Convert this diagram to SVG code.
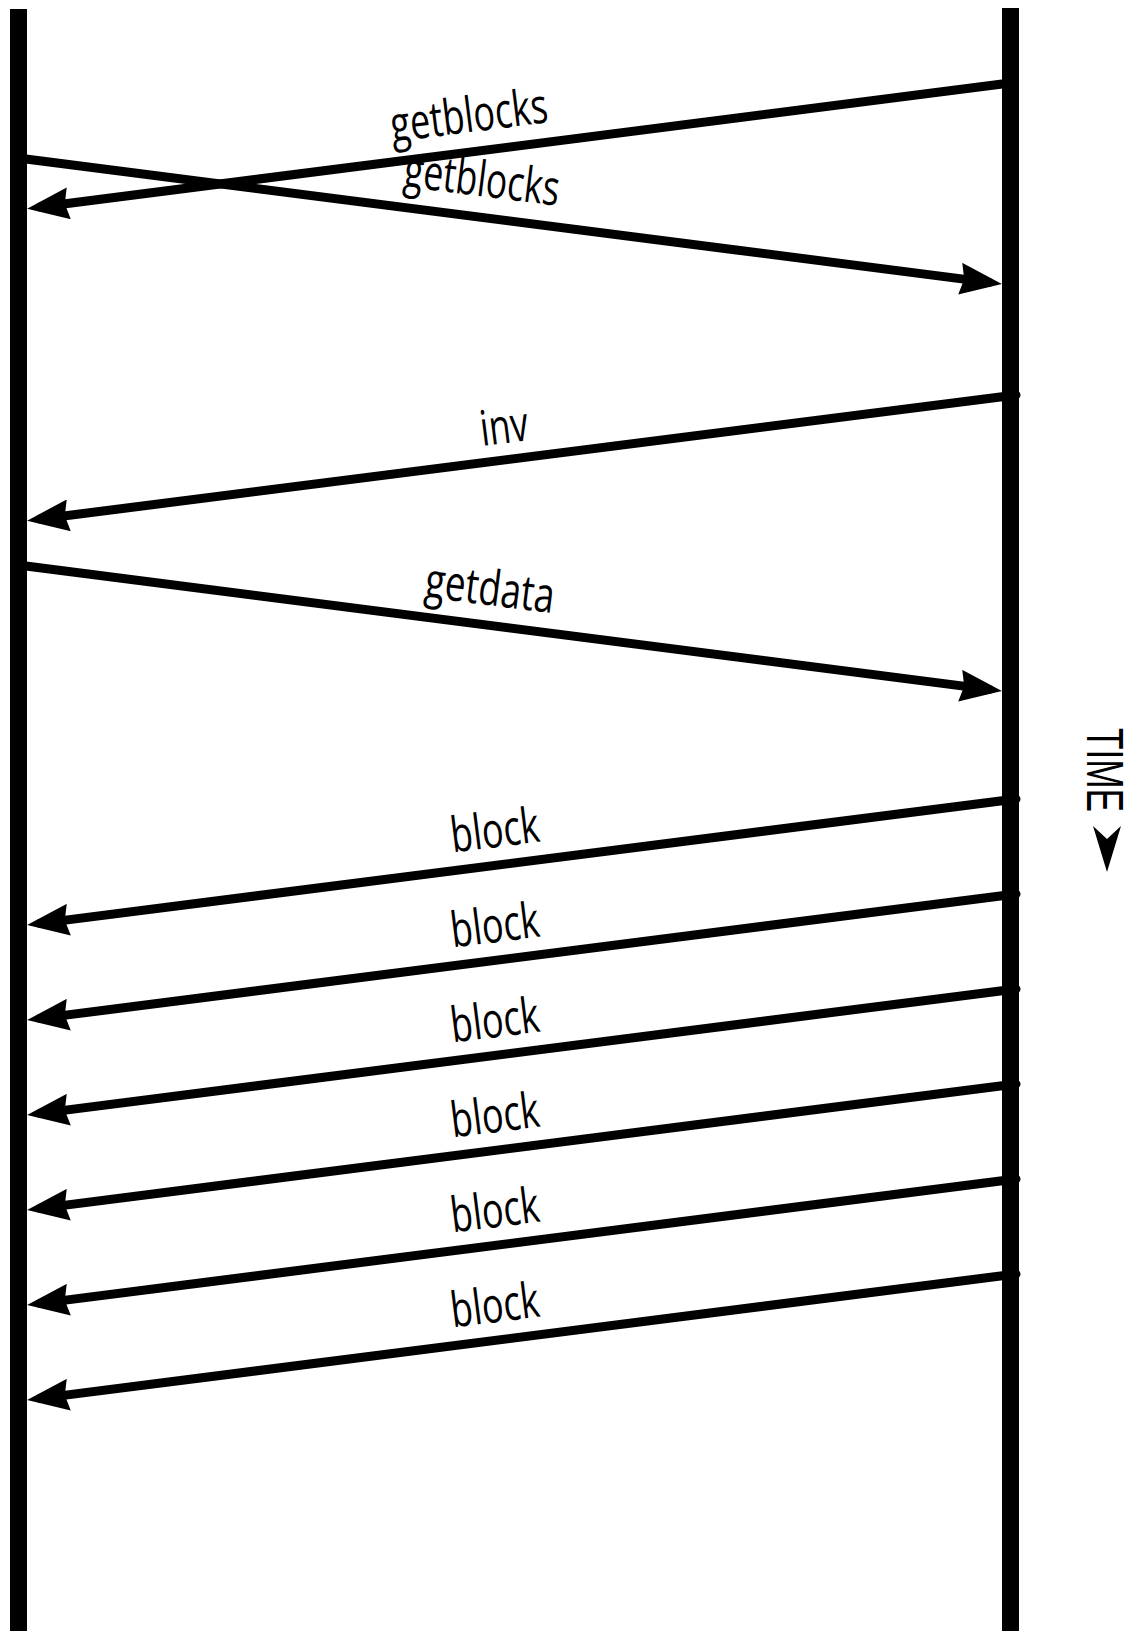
<svg xmlns="http://www.w3.org/2000/svg" width="1134" height="1631" viewBox="0 0 1134 1631">
<style>
.life{fill:#000;}
.msg{stroke:#000;stroke-width:9;fill:none;stroke-linecap:round;marker-end:url(#ah);}
.lbl{font-family:"Open Sans","DejaVu Sans",sans-serif;font-size:49px;font-weight:500;fill:#000;text-anchor:middle;}
.time{font-family:"Liberation Sans",Arial,sans-serif;font-size:51px;fill:#000;text-anchor:middle;}
</style>
<defs>
<marker id="ah" viewBox="0 0 42 32" refX="29" refY="16" markerWidth="42" markerHeight="32" markerUnits="userSpaceOnUse" orient="auto">
<path d="M0,0 L42,16 L0,32 L4,16 Z" fill="#000"/>
</marker>
</defs>
<rect width="1134" height="1631" fill="#fff"/>
<g id="lifeline-left"><rect class="life" x="10" y="9" width="17" height="1622"/></g>
<g id="lifeline-right"><rect class="life" x="1002" y="8" width="17" height="1623"/></g>
<g id="connectors">
<line class="msg" x1="1010" y1="83" x2="40" y2="207"/>
<line class="msg" x1="18" y1="158" x2="989" y2="282.4"/>
<line class="msg" x1="1016" y1="395" x2="40" y2="519"/>
<line class="msg" x1="18" y1="565" x2="989" y2="689.4"/>
<line class="msg" x1="1016" y1="799" x2="40" y2="923.4"/>
<line class="msg" x1="1016" y1="894" x2="40" y2="1018.4"/>
<line class="msg" x1="1016" y1="989" x2="40" y2="1113.4"/>
<line class="msg" x1="1016" y1="1084" x2="40" y2="1208.4"/>
<line class="msg" x1="1016" y1="1179" x2="40" y2="1303.4"/>
<line class="msg" x1="1016" y1="1274" x2="40" y2="1398.4"/>
</g>
<g id="labels">
<text class="lbl" transform="translate(471,132) rotate(-7.2)" textLength="158" lengthAdjust="spacingAndGlyphs">getblocks</text>
<text class="lbl" transform="translate(480,196) rotate(7.2)" textLength="156" lengthAdjust="spacingAndGlyphs">getblocks</text>
<text class="lbl" transform="translate(506,443) rotate(-7.2)" textLength="48" lengthAdjust="spacingAndGlyphs">inv</text>
<text class="lbl" transform="translate(488,605) rotate(7.2)" textLength="130" lengthAdjust="spacingAndGlyphs">getdata</text>
<text class="lbl" transform="translate(497,847) rotate(-7.2)" textLength="89" lengthAdjust="spacingAndGlyphs">block</text>
<text class="lbl" transform="translate(497,942) rotate(-7.2)" textLength="89" lengthAdjust="spacingAndGlyphs">block</text>
<text class="lbl" transform="translate(497,1037) rotate(-7.2)" textLength="89" lengthAdjust="spacingAndGlyphs">block</text>
<text class="lbl" transform="translate(497,1132) rotate(-7.2)" textLength="89" lengthAdjust="spacingAndGlyphs">block</text>
<text class="lbl" transform="translate(497,1227) rotate(-7.2)" textLength="89" lengthAdjust="spacingAndGlyphs">block</text>
<text class="lbl" transform="translate(497,1322) rotate(-7.2)" textLength="89" lengthAdjust="spacingAndGlyphs">block</text>
</g>
<g id="time-axis">
<text class="time" transform="translate(1087,770) rotate(90)" textLength="84" lengthAdjust="spacingAndGlyphs">TIME</text>
<path d="M1093,826 L1107,839 L1121,826 L1107,872 Z" fill="#000"/>
</g>
</svg>
